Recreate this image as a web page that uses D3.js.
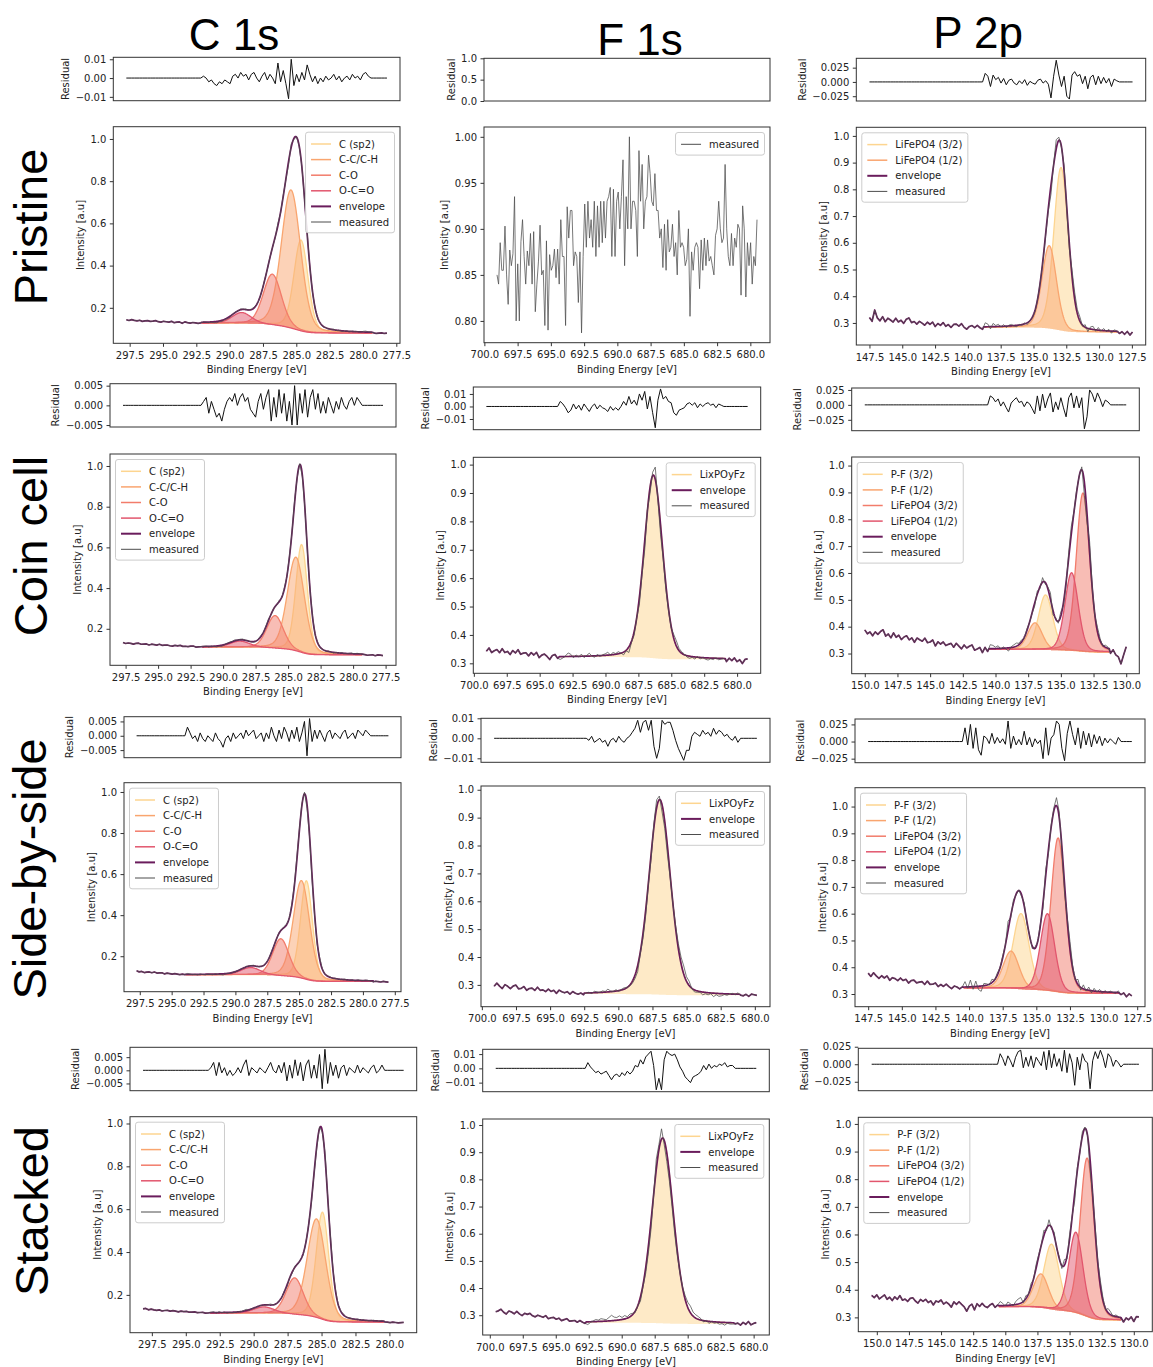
<!DOCTYPE html>
<html>
<head>
<meta charset="utf-8">
<script src="https://cdn.jsdelivr.net/npm/d3@7"></script>
<style>
  body { margin: 0; background: #fff; }
  svg { display: block; }
  text { font-family: 'DejaVu Sans', sans-serif; }
</style>
</head>
<body>
<div id="chart"></div>
<script>
// ---- labels ----
const columnTitles = ['C 1s', 'F 1s', 'P 2p']
const rowTitles = ['Pristine', 'Coin cell', 'Side-by-side', 'Stacked']
const c1sComponents = ['C (sp2)', 'C-C/C-H', 'C-O', 'O-C=O']
const f1sComponents = ['LixPOyFz']
const p2pPristineComponents = ['LiFePO4 (3/2)', 'LiFePO4 (1/2)']
const p2pComponents = ['P-F (3/2)', 'P-F (1/2)', 'LiFePO4 (3/2)', 'LiFePO4 (1/2)']

// ---- fitted peaks: [centre eV, height above background, FWHM eV] ----
const c1sPristinePeaks = [[284.65, 0.43, 1.25], [285.4, 0.655, 1.7], [286.8, 0.24, 1.6], [289.1, 0.052, 1.7]]
const c1sCoinPeaks = [[283.96, 0.53, 1.05], [284.4, 0.46, 1.55], [286.0, 0.16, 1.5], [288.7, 0.03, 1.8]]
const c1sSidePeaks = [[284.43, 0.48, 1.1], [284.82, 0.475, 1.5], [286.44, 0.18, 1.5], [288.8, 0.036, 1.8]]
const c1sStackedPeaks = [[284.93, 0.5, 1.1], [285.37, 0.46, 1.6], [286.98, 0.17, 1.5], [289.24, 0.03, 1.8]]
const f1sCoinPeaks = [[686.36, 0.645, 1.65]]
const f1sSidePeaks = [[686.97, 0.70, 1.85]]
const f1sStackedPeaks = [[686.9, 0.682, 1.9]]
const p2pPristinePeaks = [[132.9, 0.61, 1.3], [133.8, 0.31, 1.3]]
const p2pCoinPeaks = [[136.17, 0.205, 1.3], [136.98, 0.10, 1.3], [133.31, 0.59, 1.2], [134.18, 0.29, 1.2]]
const p2pSidePeaks = [[136.14, 0.283, 1.4], [136.88, 0.14, 1.4], [133.38, 0.576, 1.25], [134.17, 0.288, 1.25]]
const p2pStackedPeaks = [[136.4, 0.237, 1.4], [137.23, 0.123, 1.4], [133.63, 0.574, 1.3], [134.51, 0.292, 1.3]]

// ---- scan range [start, end] eV ----
const c1sPristineScan = [297.75, 278.2]
const c1sCoinScan = [297.7, 277.7]
const c1sSideScan = [297.75, 278.0]
const c1sStackedScan = [298.15, 278.95]
const f1sPristineScan = [699.05, 679.5]
const f1sCoinScan = [699.05, 679.2]
const f1sSideScan = [699.1, 679.85]
const f1sStackedScan = [699.55, 679.8]
const p2pPristineScan = [147.5, 127.45]
const p2pCoinScan = [150.0, 130.0]
const p2pSideScan = [147.5, 127.9]
const p2pStackedScan = [150.4, 129.6]

// ---- fit window [high, low] eV ----
const c1sPristineWindow = [292.1, 279.3]
const c1sCoinWindow = [291.6, 279.3]
const c1sSideWindow = [293.9, 279.2]
const c1sStackedWindow = [293.2, 280.4]
const f1sCoinWindow = [693.5, 680.9]
const f1sSideWindow = [692.5, 681.1]
const f1sStackedWindow = [692.7, 681.5]
const p2pPristineWindow = [138.8, 128.6]
const p2pCoinWindow = [140.5, 131.3]
const p2pSideWindow = [140.4, 128.9]
const p2pStackedWindow = [140.5, 131.0]

// ---- baseline level [scan start, window high, window low, scan end] ----
const c1sPristineBaseline = [0.142, 0.127, 0.08, 0.08]
const c1sCoinBaseline = [0.13, 0.11, 0.072, 0.07]
const c1sSideBaseline = [0.126, 0.11, 0.077, 0.075]
const c1sStackedBaseline = [0.133, 0.115, 0.073, 0.07]
const f1sCoinBaseline = [0.35, 0.322, 0.314, 0.308]
const f1sSideBaseline = [0.30, 0.267, 0.263, 0.265]
const f1sStackedBaseline = [0.32, 0.272, 0.268, 0.27]
const p2pPristineBaseline = [0.315, 0.283, 0.265, 0.262]
const p2pCoinBaseline = [0.38, 0.315, 0.305, 0.30]
const p2pSideBaseline = [0.37, 0.322, 0.302, 0.295]
const p2pStackedBaseline = [0.375, 0.338, 0.29, 0.30]

// ---- residuals, in units of 0.001 (zero outside the fit window) ----
const c1sPristineResidual = [1,-1,2,0,-1,1,-2,0,1,-1,0,2,-1,-2,1,0,-1,2,-2,0,1,-3,2,0,-1,1,0,-1,1,
  1,0,-2,-1,-3,-4,-2,-3,-1,-2,-3, 1,2,0,3,1,2,-1,2,3,0, -2,1,3,-1,2,0,-3,
  8,-2,4,-3,-11,10,-4,2,-2,3,-1,7,2,-2,1,-3, 0,-2,1,-1,0,2,-1,1,-2,0,1,-1,2,0,1,-1,2,3,1,0, 1,-1,0,1,-1,0]
const c1sCoinResidual = [2,-1,1,0,-2,1,2,-1,0,1,-2,1,0,-1,2,-1,0,1,-1,-2,1,0,2,-1,0,-1,1,2,-1,0,1,
  1,2,-2,1,-1,-3,-2,-4,-1,1, 2,1,3,0,2,3,1,2,-1,-2, -3,1,3,-1,2,4,
  -4,2,-3,4,-2,3,-4,1,-5,5,-5,3, -2,4,-3,2,4,-1,3,-2,1,-2,2,0, -2,1,-1,2,0,-1,1,2,0,2,1,0, 1,-1,0,1,-2,1,0,-1]
const c1sSideResidual = [2,-1,1,-2,0,1,-1,2,-1,0,1,-2,1,0,-1,1,0,-1,1,0,
  3,1,-1,0,-2,1,-1,-2,0,-1, -2,1,-1,-2,-4,-1,0,-2,1,-1,0, 1,-1,2,0,1,2,-1,0,1,-2,
  1,-1,3,0,-2,2,-1,3,1,-2, 2,-1,3,-2,1,5,-7,6,-2,2, -1,2,0,-2,1,2,-1,1,0,-1,
  1,2,-1,0,1,-1,2,1,0,2, 1,0,-1,1,0,-1,1,0,-1]
const c1sStackedResidual = [1,3,-1,2,0,-1,1,-2,0,1,-1,1,0,-2,1,0,1,-1,0,1,-1,0,1,-1,0,
  1,3,-2,3,-1,1,-2,0,-2,-1, 1,-1,2,4,-2,1,0,-1,1,0, -1,1,3,0,-1,2,-1,3,-4,2,
  -3,4,-2,3,-4,2,4,-3, 2,-3,6,-7,8,-5,3,-2, 2,-3,1,2,-2,1,0,-1,2,-1, 1,0,-1,1,2,-1,0,2,1, 0,-1,1,0,-1,0,1]
const f1sCoinResidual = [3,-2,4,1,-1,3,-3,2,0,4,-2,1,-4,2,0,-1,3,-2,1,-3,4,0,-2,1,5,-1,-3,2,
  4,2,-1,-5,-3,2,-2,1,-3,2, -1,-4,0,2,-2,1,-1,-2,-4,0, -3,-1,-3,0,4,1,8,2,5,1,
  10,5,12,-2,8,-5,-17,5,14,6,8, 4,3,-5,-7,-3,-2,-1,2,3,1, 3,-1,2,0,2,3,1,2,-1,2,1, 0,3,-2,1,-3,2,-1,4,-2,-3]
const f1sSideResidual = [2,-3,1,4,-2,0,3,-1,-3,2,1,-2,3,0,-1,2,-3,1,0,2,-2,1,-1,3,-2,0,1,-1,2,-2,0,1,-1,
  1,0,-1,1,-2,-1,0,-2,-1,-4, -1,0,-2,1,-1,-2,0,1,3, 5,9,3,8,9,4,9, -4,-10,-5,9,7,8,8,
  4,-1,-5,-8,-11,-6,-6, 1,3,2,1,4,2,3,1,5,2,4,3, 1,2,0,-1,1,-2,0,1,-1,2,-1,0,1]
const f1sStackedResidual = [3,1,-2,2,4,-1,0,2,-2,1,3,-1,0,-2,1,2,-1,0,1,-2,2,0,-1,1,-1,2,0,-2,1,0,-1,1,-2,0,1,
  4,1,-1,-3,-2,-4,-3,-2,-5,-8, -5,-4,-6,-3,-5,-2,-4,-2,2, 1,6,3,8,10,12,2,-15,
  -7,-15,6,12,10,9,10,6, 1,-2,-6,-8,-10,-6,-5,-4, -2,2,-1,3,0,2,1,3,2,4,1,2, 2,0,-1,2,-2,1,-3,2,0,-1]
const p2pPristineResidual = [5,-8,35,6,-4,12,-6,8,2,-5,10,-3,4,-7,9,15,-2,3,-6,5,-1,-8,4,-3,6,-10,2,-4,7,-6,1,-9,3,5,-2,8,-5,-11,0,4,-3,6,-2,-7,
  15,10,-8,12,4,8,-2, 6,-5,3,5,-2,-5,2, -3,4,-6,1,-2,-4,3,5,-2,2,-4,
  -28,10,38,12,-8,10,-25,-30,12, 18,10,13,-3,10,-12,8, 12,-5,10,-3,8,-2,6,-8,5,2, -4,3,-6,5,-8,4]
const p2pCoinResidual = [8,-5,3,-10,6,-2,10,18,-4,5,-8,12,-3,6,-9,2,8,-6,3,-12,5,0,-4,9,-7,-3,6,-15,2,-5,4,-8,-2,3,-10,6,-3,-12,4,-6,2,8,-10,-4,3,-15,6,-8,
  15,12,5,10,-2,5,-4,-12, 3,8,12,4,6,-3,5,2,-6, -15,15,-10,18,-5,10, 20,-12,5,-8,12,-5,-20,
  12,20,-5,15,-5, 12,-40,-20,25,18, 5,20,10,-3,8,5, -4,10,-8,-15,-40,-6,25]
const p2pSideResidual = [8,-3,12,2,-6,5,-2,7,-8,3,1,-5,6,-2,4,-9,2,5,-4,0,3,-6,8,-3,-1,5,-7,2,-4,6,-2,-8,3,1,-5,4,
  20,-5,25,-10,20,-12,-20, 8,5,-3,12,-3,6,-2,4,-4, 30,-10,8,-5,3,-5,15, -5,6,-8,4,-3,2,
  -25,20,-20,5,10,30, 25,-10,-28,12,30,10, -5,20,-10,15,-5,12,-8,10,-3,8,-6,5,-2,4, 0,-4,6,-3,5,-8,4,-2]
const p2pStackedResidual = [5,-3,8,-6,2,10,-5,3,-8,6,-2,12,-4,1,-7,5,8,-3,-10,4,-2,6,-5,2,-12,3,0,8,-6,2,-4,-15,5,-3,7,-2,-10,-25,-6,2,-18,5,-4,8,-2,-6,4,10,-3,6,
  15,8,-2,12,5,-4,10,18,20, -5,10,-3,12,-5,10,4,-2, 18,-8,20,-5,15,-3,8, -10,20,-12,15,2,-30,
  10,-8,15,5,2, -35,5,18,8,20,10,-5,15, 10,-3,6,2,-4, -8,5,-3,6,-12,4,2]

// ---- F 1s pristine: measured only, units of 0.001 ----
const f1sPristineMeasured = [850,840,885,855,855,903,850,818,877,860,873,935,800,862,800,886,910,870,840,876,
  860,895,840,897,810,840,865,904,850,855,795,887,790,872,855,860,878,847,878,840,
  910,870,870,795,924,890,920,920,860,875,870,820,875,787,870,927,880,930,890,910,
  880,930,870,925,880,930,885,930,890,930,935,945,870,943,870,930,940,900,935,975,
  860,935,900,1000,900,930,930,920,870,985,930,970,900,930,935,980,960,930,925,960,
  920,920,890,900,858,905,855,910,875,880,905,870,885,850,920,880,885,880,860,867,
  900,805,875,855,880,885,880,835,888,855,890,860,888,865,870,860,850,893,900,930,
  900,885,890,970,900,870,860,895,860,890,880,905,900,828,925,900,826,885,860,885,
  840,870,860,910]

// ---- panels ----
const panels = [
  { row: 0, col: 0, names: c1sComponents, peaks: c1sPristinePeaks, scan: c1sPristineScan, window: c1sPristineWindow, baseline: c1sPristineBaseline, residual: c1sPristineResidual },
  { row: 0, col: 1, names: [], scan: f1sPristineScan, measured: f1sPristineMeasured },
  { row: 0, col: 2, names: p2pPristineComponents, peaks: p2pPristinePeaks, scan: p2pPristineScan, window: p2pPristineWindow, baseline: p2pPristineBaseline, residual: p2pPristineResidual },
  { row: 1, col: 0, names: c1sComponents, peaks: c1sCoinPeaks, scan: c1sCoinScan, window: c1sCoinWindow, baseline: c1sCoinBaseline, residual: c1sCoinResidual },
  { row: 1, col: 1, names: f1sComponents, peaks: f1sCoinPeaks, scan: f1sCoinScan, window: f1sCoinWindow, baseline: f1sCoinBaseline, residual: f1sCoinResidual },
  { row: 1, col: 2, names: p2pComponents, peaks: p2pCoinPeaks, scan: p2pCoinScan, window: p2pCoinWindow, baseline: p2pCoinBaseline, residual: p2pCoinResidual },
  { row: 2, col: 0, names: c1sComponents, peaks: c1sSidePeaks, scan: c1sSideScan, window: c1sSideWindow, baseline: c1sSideBaseline, residual: c1sSideResidual },
  { row: 2, col: 1, names: f1sComponents, peaks: f1sSidePeaks, scan: f1sSideScan, window: f1sSideWindow, baseline: f1sSideBaseline, residual: f1sSideResidual },
  { row: 2, col: 2, names: p2pComponents, peaks: p2pSidePeaks, scan: p2pSideScan, window: p2pSideWindow, baseline: p2pSideBaseline, residual: p2pSideResidual },
  { row: 3, col: 0, names: c1sComponents, peaks: c1sStackedPeaks, scan: c1sStackedScan, window: c1sStackedWindow, baseline: c1sStackedBaseline, residual: c1sStackedResidual },
  { row: 3, col: 1, names: f1sComponents, peaks: f1sStackedPeaks, scan: f1sStackedScan, window: f1sStackedWindow, baseline: f1sStackedBaseline, residual: f1sStackedResidual },
  { row: 3, col: 2, names: p2pComponents, peaks: p2pStackedPeaks, scan: p2pStackedScan, window: p2pStackedWindow, baseline: p2pStackedBaseline, residual: p2pStackedResidual },
]

// ---- layout: [residual box, main box], each [x0, y0, x1, y1] ----
const frames = [
  [[113.3, 57.3, 400, 100.7], [113.3, 126.7, 400, 343.3]],
  [[484, 58.3, 770, 101], [484, 127, 770, 342.7]],
  [[856.3, 58.3, 1145.7, 101], [856.3, 127.3, 1145.7, 345]],
  [[110, 383.7, 396, 427], [110, 454, 396, 665.3]],
  [[473.3, 387, 760.7, 429.7], [473.3, 457.3, 760.7, 673.3]],
  [[851.7, 388, 1139.3, 430.7], [851.7, 457, 1139.3, 673.7]],
  [[124, 716.7, 401, 757.7], [124, 782.7, 401, 991.7]],
  [[481, 718.3, 770, 762.3], [481, 786, 770, 1006.7]],
  [[855, 719, 1145, 762.7], [855, 787.7, 1145, 1006.7]],
  [[130, 1047.3, 416.7, 1090.7], [130, 1116.7, 416.7, 1332.7]],
  [[482.7, 1049.3, 769.3, 1091.7], [482.7, 1119, 769.3, 1335]],
  [[858.3, 1048.3, 1152.3, 1090.7], [858.3, 1117.3, 1152.3, 1331.7]],
]
const legendCorner = ['ur', 'ur', 'ul', 'ul', 'ur', 'ul', 'ul', 'ur', 'ul', 'ul', 'ur', 'ul']
const columnTitlePos = [[234, 50], [640, 55], [978, 48]]
const rowTitlePos = [[47, 227], [47, 546], [46, 869], [48, 1211]]

const columnStyle = [
  { xTicks: d3.range(297.5, 277, -2.5), yStep: 0.2, yFmt: '.1f', k: 1.5 },
  { xTicks: d3.range(700, 679, -2.5), yStep: 0.1, yFmt: '.1f', k: -2.5 },
  { xTicks: d3.range(150, 127, -2.5), yStep: 0.1, yFmt: '.1f', k: 1 },
]
const residualTicks = [
  [[-0.01, 0, 0.01], '.2f'], [[0, 0.5, 1], '.1f'], [[-0.025, 0, 0.025], '.3f'],
  [[-0.005, 0, 0.005], '.3f'], [[-0.01, 0, 0.01], '.2f'], [[-0.025, 0, 0.025], '.3f'],
  [[-0.005, 0, 0.005], '.3f'], [[-0.01, 0, 0.01], '.2f'], [[-0.025, 0, 0.025], '.3f'],
  [[-0.005, 0, 0.005], '.3f'], [[-0.01, 0, 0.01], '.2f'], [[-0.025, 0, 0.025], '.3f'],
]

const palette = ['#fdd590', '#f9a56f', '#f27c6b', '#e2566d']
const envelopeColor = '#6a1c5c'
const measuredColor = '#4d4d4d'
const textColor = '#222'
const frameColor = '#333'

const svg = d3.select('#chart').append('svg').attr('width', 1153).attr('height', 1367)

function peakShape(x, [c, h, w]) {
  const u = (x - c) / w
  return h * (0.8 * Math.exp(-4 * Math.LN2 * u * u) + 0.2 / (1 + 4 * u * u))
}

function padded([a, b]) {
  const lo = Math.min(a, b), hi = Math.max(a, b), p = (hi - lo) * 0.05
  return [lo - p, hi + p]
}

function styleAxis(g) {
  g.select('.domain').remove()
  g.selectAll('line').attr('stroke', frameColor)
  g.selectAll('text').attr('fill', textColor).style('font-family', "'DejaVu Sans', sans-serif").style('font-size', '10px')
}

function buildCurves(p) {
  const cs = columnStyle[p.col]
  const values = p.measured || p.residual
  const n = values.length
  const step = (p.scan[0] - p.scan[1]) / (n - 1)
  const xs = d3.range(n).map(j => p.scan[0] - j * step)
  if (p.measured) {
    return { measured: xs.map((x, j) => [x, p.measured[j] / 1000]), envelope: null, comps: [], residual: null }
  }
  const [wHi, wLo] = p.window
  const [yS, bL, bR, yE] = p.baseline
  const m = Math.round((wHi - wLo) / 0.04)
  const fine = d3.range(m + 1).map(j => wHi - j * (wHi - wLo) / m)
  const compVals = p.peaks.map(pk => fine.map(x => peakShape(x, pk)))
  const sum = fine.map((x, j) => d3.sum(compVals, c => c[j]))
  // Shirley-type background, integrated from the low binding energy side
  const cum = []
  let acc = 0
  for (let j = m; j >= 0; j--) { acc += sum[j]; cum[j] = acc }
  const bg = fine.map((x, j) => bR + (bL - bR) * cum[j] / acc)
  const envFine = fine.map((x, j) => bg[j] + sum[j])
  const comps = compVals.map(c => fine.map((x, j) => ({ x, y0: bg[j], y1: bg[j] + c[j] })))

  const measured = [], residual = [], left = [], right = []
  xs.forEach((x, j) => {
    const r = p.residual[j] / 1000
    if (x > wHi) {
      const y = yS + (bL - yS) * (p.scan[0] - x) / (p.scan[0] - wHi) + cs.k * r
      measured.push([x, y]); left.push([x, y]); residual.push([x, 0])
    } else if (x < wLo) {
      const y = bR + (yE - bR) * (wLo - x) / (wLo - p.scan[1]) + cs.k * r
      measured.push([x, y]); right.push([x, y]); residual.push([x, 0])
    } else {
      const e = envFine[Math.round((wHi - x) / (wHi - wLo) * m)]
      measured.push([x, e + cs.k * r]); residual.push([x, r])
    }
  })
  const envelope = left.concat(fine.map((x, j) => [x, envFine[j]]), right)
  return { measured, envelope, comps, residual }
}

function drawLegend(g, items, box, corner) {
  const fs = 10, rowH = 15.6, pad = 4.5, handle = 20, gap = 8
  const lg = g.append('g')
  const rect = lg.append('rect')
  const labels = items.map((it, i) => lg.append('text')
    .attr('font-size', fs).attr('fill', textColor).text(it.label))
  const tw = d3.max(labels, t => t.node().getComputedTextLength())
  const w = pad * 2 + handle + gap + tw + 2
  const h = pad * 2 + rowH * items.length - 2
  const lx = corner === 'ur' ? box[2] - 5.5 - w : box[0] + 5.5
  const ly = box[1] + 5.5
  rect.attr('x', lx).attr('y', ly).attr('width', w).attr('height', h).attr('rx', 2.5)
    .attr('fill', '#fff').attr('fill-opacity', 0.85).attr('stroke', '#cccccc').attr('stroke-width', 1)
  items.forEach((it, i) => {
    const cy = ly + pad + rowH * i + rowH / 2 - 0.5
    lg.append('line').attr('x1', lx + pad + 1).attr('x2', lx + pad + 1 + handle)
      .attr('y1', cy).attr('y2', cy).attr('stroke', it.color).attr('stroke-width', it.width)
    labels[i].attr('x', lx + pad + 1 + handle + gap).attr('y', cy + 3.6)
  })
}

function drawPanel(p, i) {
  const [rb, mb] = frames[i]
  const cs = columnStyle[p.col]
  const c = buildCurves(p)

  const xDom = padded(p.scan)
  const x = d3.scaleLinear().domain([xDom[1], xDom[0]]).range([mb[0], mb[2]])
  const xr = d3.scaleLinear().domain([xDom[1], xDom[0]]).range([rb[0], rb[2]])

  const ys = c.measured.map(d => d[1])
  if (c.envelope) c.envelope.forEach(d => ys.push(d[1]))
  c.comps.forEach(cc => cc.forEach(d => { ys.push(d.y0, d.y1) }))
  const yDom = padded(d3.extent(ys))
  const y = d3.scaleLinear().domain(yDom).range([mb[3], mb[1]])

  const rDom = c.residual ? padded(d3.extent(c.residual, d => d[1])) : [0, 1]
  const yr = d3.scaleLinear().domain(rDom).range([rb[3], rb[1]])

  // ---- residual panel ----
  const gr = svg.append('g')
  if (c.residual) {
    gr.append('path').datum(c.residual)
      .attr('d', d3.line().x(d => xr(d[0])).y(d => yr(d[1])))
      .attr('fill', 'none').attr('stroke', '#111').attr('stroke-width', 1)
  }
  gr.append('rect').attr('x', rb[0]).attr('y', rb[1]).attr('width', rb[2] - rb[0]).attr('height', rb[3] - rb[1])
    .attr('fill', 'none').attr('stroke', frameColor).attr('stroke-width', 1)
  const [rTicks, rFmt] = residualTicks[i]
  const ra = gr.append('g').attr('transform', `translate(${rb[0]},0)`)
    .call(d3.axisLeft(yr).tickValues(rTicks).tickFormat(d3.format(rFmt)).tickSize(3.5).tickPadding(3.5))
  styleAxis(ra)
  const rbb = ra.node().getBBox()
  gr.append('text').attr('transform', `translate(${rb[0] + rbb.x - 6.5},${(rb[1] + rb[3]) / 2}) rotate(-90)`)
    .attr('text-anchor', 'middle').attr('font-size', 10).attr('fill', textColor).text('Residual')

  // ---- main panel ----
  const g = svg.append('g')
  const area = d3.area().x(d => x(d.x)).y0(d => y(d.y0)).y1(d => y(d.y1))
  const cline = d3.line().x(d => x(d.x)).y(d => y(d.y1))
  c.comps.forEach((cc, k) => {
    g.append('path').datum(cc).attr('d', area).attr('fill', palette[k]).attr('fill-opacity', 0.5)
    g.append('path').datum(cc).attr('d', cline).attr('fill', 'none').attr('stroke', palette[k]).attr('stroke-width', 1.3)
  })
  const line = d3.line().x(d => x(d[0])).y(d => y(d[1]))
  if (c.envelope) {
    g.append('path').datum(c.envelope).attr('d', line).attr('fill', 'none')
      .attr('stroke', envelopeColor).attr('stroke-width', 1.7).attr('stroke-linejoin', 'round')
  }
  g.append('path').datum(c.measured).attr('d', line).attr('fill', 'none')
    .attr('stroke', measuredColor).attr('stroke-width', 0.85).attr('stroke-opacity', 0.9)

  g.append('rect').attr('x', mb[0]).attr('y', mb[1]).attr('width', mb[2] - mb[0]).attr('height', mb[3] - mb[1])
    .attr('fill', 'none').attr('stroke', frameColor).attr('stroke-width', 1)

  const xt = cs.xTicks.filter(t => t >= xDom[0] - 0.03 && t <= xDom[1] + 0.03)
  const xa = g.append('g').attr('transform', `translate(0,${mb[3]})`)
    .call(d3.axisBottom(x).tickValues(xt).tickFormat(d3.format('.1f')).tickSize(3.5).tickPadding(5))
  styleAxis(xa)

  const yStep = p.measured ? 0.05 : cs.yStep
  const yFmt = p.measured ? '.2f' : cs.yFmt
  const yt = d3.range(Math.ceil(yDom[0] / yStep - 1e-6), Math.floor(yDom[1] / yStep + 1e-6) + 1).map(k => +(k * yStep).toFixed(3))
  const ya = g.append('g').attr('transform', `translate(${mb[0]},0)`)
    .call(d3.axisLeft(y).tickValues(yt).tickFormat(d3.format(yFmt)).tickSize(3.5).tickPadding(3.5))
  styleAxis(ya)
  const ybb = ya.node().getBBox()

  g.append('text').attr('x', (mb[0] + mb[2]) / 2).attr('y', mb[3] + 30)
    .attr('text-anchor', 'middle').attr('font-size', 10).attr('fill', textColor).text('Binding Energy [eV]')
  g.append('text').attr('transform', `translate(${mb[0] + ybb.x - 6.5},${(mb[1] + mb[3]) / 2}) rotate(-90)`)
    .attr('text-anchor', 'middle').attr('font-size', 10).attr('fill', textColor).text('Intensity [a.u]')

  const items = p.names.map((name, k) => ({ label: name, color: palette[k], width: 1.5 }))
  if (c.envelope) items.push({ label: 'envelope', color: envelopeColor, width: 2 })
  items.push({ label: 'measured', color: measuredColor, width: 1 })
  drawLegend(g, items, mb, legendCorner[i])
}

panels.forEach(drawPanel)

// ---- column and row titles ----
columnTitles.forEach((t, i) => {
  svg.append('text').attr('x', columnTitlePos[i][0]).attr('y', columnTitlePos[i][1])
    .attr('text-anchor', 'middle').style('font-family', "'Liberation Sans', Arial, sans-serif")
    .attr('font-size', 44).attr('fill', '#000').text(t)
})
rowTitles.forEach((t, i) => {
  svg.append('text').attr('transform', `translate(${rowTitlePos[i][0]},${rowTitlePos[i][1]}) rotate(-90)`)
    .attr('text-anchor', 'middle').style('font-family', "'Liberation Sans', Arial, sans-serif")
    .attr('font-size', 47).attr('fill', '#000').text(t)
})
</script>
</body>
</html>
